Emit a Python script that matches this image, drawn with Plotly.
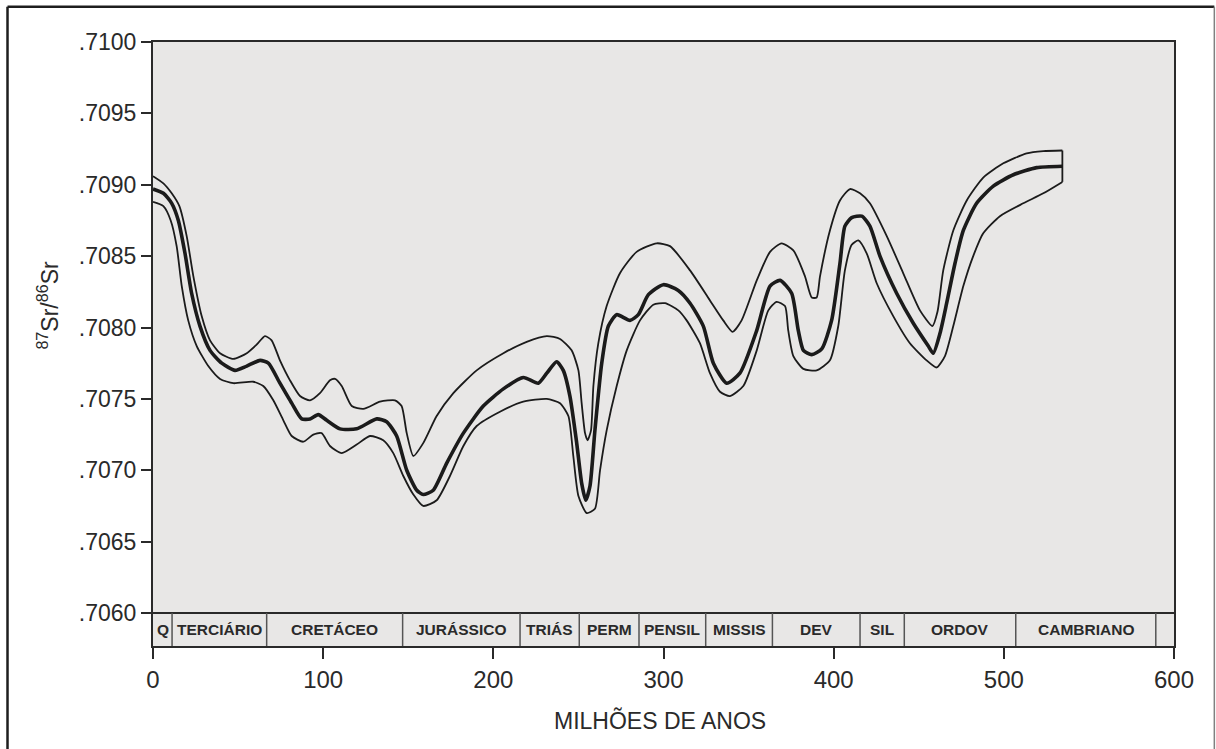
import plotly.graph_objects as go

# Strontium isotope curve through the Phanerozoic (age in Ma, 87Sr/86Sr)
AGE_UPPER = [0, 6.1, 11, 15.5, 19.8, 23.7, 28.6, 33.5, 39.4, 47.2, 55.1, 60.9, 65.8, 69.7, 74.6,
             80.5, 86.4, 92.3, 98.1, 104, 107, 110.9, 116.8, 123.6, 133.4, 142.2, 146.1, 149.1,
             153, 158.8, 166.7, 176.5, 190.2, 205.9, 219.6, 231.4, 239.2, 246, 250, 251.9, 253.9,
             255.4, 257.4, 258.8, 261.7, 266.6, 274.4, 284.2, 296, 303.8, 315.6, 327.3, 335.1,
             340.6, 345.9, 354.8, 362.6, 369.4, 376.3, 383.1, 387.1, 390, 392, 397.8, 403.7,
             409.6, 415.5, 421.3, 431.2, 440.9, 450.7, 458, 461, 464.4, 470.3, 478.2, 487.9,
             499.7, 513.4, 523.2, 534.4]
SR_UPPER = [0.70906, 0.70901, 0.70894, 0.70885, 0.70864, 0.70836, 0.70808, 0.70791, 0.70782,
            0.70778, 0.70782, 0.70788, 0.70794, 0.70791, 0.70777, 0.70763, 0.70752, 0.70749,
            0.70754, 0.70763, 0.70764, 0.70759, 0.70745, 0.70743, 0.70748, 0.70749, 0.70745,
            0.70726, 0.70710, 0.70719, 0.70738, 0.70754, 0.70770, 0.70782, 0.70790, 0.70794,
            0.70792, 0.70784, 0.70770, 0.70747, 0.70726, 0.70721, 0.70728, 0.70759, 0.70789,
            0.70815, 0.70838, 0.70853, 0.70859, 0.70857, 0.70840, 0.70819, 0.70805, 0.70797,
            0.70805, 0.70833, 0.70853, 0.70859, 0.70854, 0.70836, 0.70821, 0.70821, 0.70836,
            0.70868, 0.70889, 0.70897, 0.70894, 0.70887, 0.70864, 0.70838, 0.70812, 0.70801,
            0.70811, 0.70840, 0.70868, 0.70889, 0.70905, 0.70915, 0.70922, 0.709236, 0.70924]

AGE_MID = [0, 6.1, 11, 14.9, 18.8, 22.7, 27.6, 33.5, 40.4, 48.2, 55.1, 62.9, 67.8, 74.6, 81.5,
           87.4, 92.3, 97.1, 102.1, 109.9, 119.7, 131.5, 137.3, 143.2, 149.1, 155, 158.8, 164.7,
           172.6, 182.4, 194.1, 205.9, 217.6, 226.4, 231.4, 237.2, 241.1, 245, 249, 251.9, 254.3,
           256.8, 259.7, 263.7, 267.6, 272.5, 280.3, 285.2, 291.1, 299.9, 308.7, 315.6, 323.4,
           329.3, 337.1, 344.9, 354.8, 362.6, 368.5, 375.3, 379.2, 382.2, 387.1, 393, 398.8,
           403.7, 406.6, 410.6, 416.5, 421.3, 427.2, 437, 446.8, 455.6, 458.5, 462.5, 466.4,
           471.3, 476.2, 484, 493.8, 505.6, 519.3, 534.4]
SR_MID = [0.70897, 0.70894, 0.70887, 0.70875, 0.70852, 0.70824, 0.70801, 0.70784, 0.70775,
          0.70770, 0.70773, 0.70777, 0.70775, 0.70761, 0.70747, 0.70736, 0.70736, 0.70739,
          0.70735, 0.70729, 0.70729, 0.70736, 0.70734, 0.70724, 0.70700, 0.70686, 0.70683,
          0.70686, 0.70705, 0.70726, 0.70745, 0.70757, 0.70765, 0.70761, 0.70768, 0.70776,
          0.70770, 0.70752, 0.70719, 0.70691, 0.70679, 0.70689, 0.70728, 0.70775, 0.70801,
          0.70809, 0.70805, 0.70809, 0.70823, 0.70830, 0.70826, 0.70817, 0.70801, 0.70775,
          0.70761, 0.70768, 0.70798, 0.70829, 0.70833, 0.70824, 0.70798, 0.70784, 0.70781,
          0.70785, 0.70805, 0.70845, 0.70871, 0.70877, 0.70878, 0.70871, 0.70850, 0.70824,
          0.70803, 0.70787, 0.70782, 0.70796, 0.70817, 0.70845, 0.70868, 0.70887, 0.70899,
          0.70907, 0.70912, 0.70913]

AGE_LOWER = [0, 6.1, 10.4, 13.9, 16.9, 20.7, 25.7, 32.5, 39.4, 47.2, 58.9, 64.8, 70.7, 76.6,
             81.5, 88.3, 94.2, 99.1, 104, 110.9, 119.7, 127.5, 135.3, 141.2, 147.1, 153, 158.8,
             166.7, 174.5, 182.4, 190.2, 203.9, 217.6, 231.4, 239.2, 244.1, 247, 250, 254.9,
             259.7, 262.7, 266.6, 272.5, 278.4, 286.2, 294, 300.9, 308.7, 313.6, 321.4, 327.3,
             333.2, 339.1, 346.9, 354.8, 361.6, 366.5, 371.4, 373.3, 376.3, 382.2, 390, 397.8,
             402.7, 406.6, 410.6, 414.5, 419.4, 425.3, 435, 444.8, 454.6, 460.5, 465.4, 470.3,
             476.2, 482, 487.9, 497.7, 511.4, 523.2, 534.4]
SR_LOWER = [0.70888, 0.70885, 0.70875, 0.70857, 0.70829, 0.70805, 0.70787, 0.70773, 0.70764,
            0.70761, 0.70762, 0.70759, 0.70749, 0.70735, 0.70724, 0.70720, 0.70725, 0.70726,
            0.70717, 0.70712, 0.70718, 0.70724, 0.70721, 0.70712, 0.70696, 0.70683, 0.70675,
            0.70679, 0.70696, 0.70717, 0.70731, 0.70741, 0.70748, 0.70750, 0.70747, 0.70738,
            0.70710, 0.70682, 0.70670, 0.70673, 0.70700, 0.70728, 0.70759, 0.70784, 0.70805,
            0.70816, 0.70817, 0.70812, 0.70805, 0.70789, 0.70768, 0.70755, 0.70752, 0.70759,
            0.70784, 0.70812, 0.70818, 0.70815, 0.70798, 0.70780, 0.70771, 0.70770, 0.70777,
            0.70801, 0.70840, 0.70858, 0.70861, 0.70852, 0.70831, 0.70808, 0.70789, 0.70777,
            0.70772, 0.70780, 0.70801, 0.70829, 0.70850, 0.70866, 0.70878, 0.70887, 0.70894,
            0.70902]

# Geological periods (boundaries in Ma)
PERIOD_NAMES = ["Q", "TERCIÁRIO", "CRETÁCEO", "JURÁSSICO", "TRIÁS", "PERM", "PENSIL",
                "MISSIS", "DEV", "SIL", "ORDOV", "CAMBRIANO", ""]
PERIOD_BOUNDS = [0, 11.2, 66.8, 146.7, 215.7, 250.5, 285.6, 324.8, 364, 415.5, 441.5, 507,
                 589.3, 600]

Y_TICKS = [0.7060, 0.7065, 0.7070, 0.7075, 0.7080, 0.7085, 0.7090, 0.7095, 0.7100]
Y_TICK_TEXT = [".7060", ".7065", ".7070", ".7075", ".7080", ".7085", ".7090", ".7095", ".7100"]
X_TICKS = [0, 100, 200, 300, 400, 500, 600]

Y_TOP = 0.7100
Y_BASE = 0.7060
Y_STRIP = 0.705769  # bottom of the period strip below the data area

INK = "#1b1b1b"
BG = "#e8e7e6"

fig = go.Figure()
for ages, vals, width in [(AGE_UPPER, SR_UPPER, 1.8), (AGE_LOWER, SR_LOWER, 1.8),
                          (AGE_MID, SR_MID, 3.6)]:
    fig.add_trace(go.Scatter(x=ages, y=vals, mode="lines",
                             line=dict(color=INK, width=width, shape="spline", smoothing=0.6),
                             showlegend=False, hoverinfo="skip"))

# closing cap of the envelope at the oldest age
fig.add_trace(go.Scatter(x=[AGE_UPPER[-1], AGE_LOWER[-1]], y=[SR_UPPER[-1], SR_LOWER[-1]],
                         mode="lines", line=dict(color=INK, width=1.8),
                         showlegend=False, hoverinfo="skip"))

shapes = [dict(type="line", xref="x", yref="y", x0=0, x1=600, y0=Y_BASE, y1=Y_BASE,
               line=dict(color="#2a2a2a", width=2))]
annotations = []
for i, name in enumerate(PERIOD_NAMES):
    a, b = PERIOD_BOUNDS[i], PERIOD_BOUNDS[i + 1]
    if i > 0:
        shapes.append(dict(type="line", xref="x", yref="y", x0=a, x1=a, y0=Y_STRIP, y1=Y_BASE,
                           line=dict(color="#555555", width=1.5)))
    if name:
        annotations.append(dict(x=(a + b) / 2, y=(Y_STRIP + Y_BASE) / 2, xref="x", yref="y",
                                text=f"<b>{name}</b>", showarrow=False,
                                font=dict(family="Liberation Sans, Arial", size=15.5,
                                          color="#2a2a2a"),
                                xanchor="center", yanchor="middle"))

# outer frame
shapes += [
    dict(type="line", xref="paper", yref="paper", x0=-0.1425, x1=1.0395, y0=1.0585, y1=1.0585,
         line=dict(color="#1e1e1e", width=2.5)),
    dict(type="line", xref="paper", yref="paper", x0=-0.1425, x1=-0.1425, y0=1.0585, y1=-0.175,
         line=dict(color="#1e1e1e", width=2.5)),
    dict(type="line", xref="paper", yref="paper", x0=1.0395, x1=1.0395, y0=1.0585, y1=-0.175,
         line=dict(color="#808080", width=1.5)),
]

annotations += [
    dict(x=-0.103, y=0.565, xref="paper", yref="paper", text="<sup>87</sup>Sr/<sup>86</sup>Sr",
         textangle=-90, showarrow=False, xanchor="center", yanchor="middle",
         font=dict(family="Arial, Liberation Sans", size=23, color="#2a2a2a")),
    dict(x=0.497, y=-0.123, xref="paper", yref="paper", text="MILHÕES DE ANOS",
         showarrow=False, xanchor="center", yanchor="middle",
         font=dict(family="Arial, Liberation Sans", size=23, color="#2a2a2a")),
]

fig.update_layout(
    width=1216, height=749,
    margin=dict(l=153, r=42, t=42, b=103),
    paper_bgcolor="white", plot_bgcolor=BG,
    shapes=shapes, annotations=annotations,
    font=dict(family="Arial, Liberation Sans", color="#2a2a2a"),
)
fig.update_xaxes(range=[0, 600], tickvals=X_TICKS, ticks="outside", ticklen=11, tickwidth=2,
                 tickcolor="#2a2a2a", showline=True, linewidth=2, linecolor="#2a2a2a",
                 mirror=True, showgrid=False, zeroline=False,
                 tickfont=dict(size=24, color="#2a2a2a"))
fig.update_yaxes(range=[Y_STRIP, Y_TOP], tickvals=Y_TICKS, ticktext=Y_TICK_TEXT,
                 ticks="outside", ticklen=10, tickwidth=2, tickcolor="#2a2a2a",
                 showline=True, linewidth=2, linecolor="#2a2a2a", mirror=True,
                 showgrid=False, zeroline=False, tickfont=dict(size=23, color="#2a2a2a"))

fig.write_html("out.html")
